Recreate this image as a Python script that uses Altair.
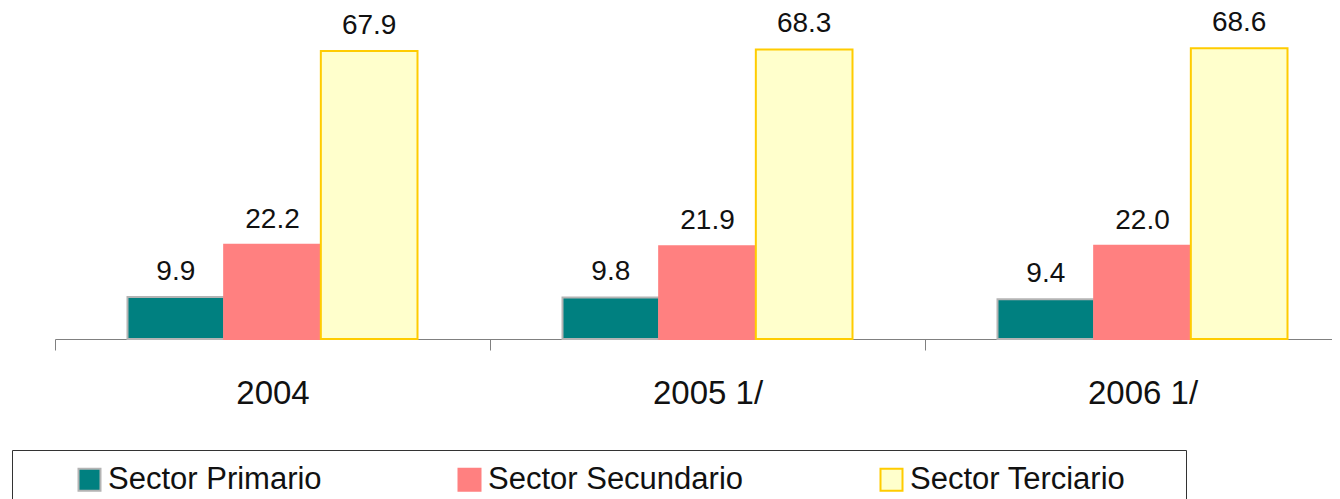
import altair as alt
import pandas as pd

years = ["2004", "2005 1/", "2006 1/"]
sectors = ["Sector Primario", "Sector Secundario", "Sector Terciario"]
primario = [9.9, 9.8, 9.4]
secundario = [22.2, 21.9, 22.0]
terciario = [67.9, 68.3, 68.6]
fill_colors = ["#008080", "#FF8080", "#FFFFCC"]
stroke_colors = ["#B4B4B4", "#FF8080", "#FFCC00"]

rows = []
for s, vals in zip(sectors, [primario, secundario, terciario]):
    for yr, v in zip(years, vals):
        rows.append({"year": yr, "sector": s, "value": v})
df = pd.DataFrame(rows)

FONT = "Liberation Sans"
PAD = "\u2800" * 2

x_enc = alt.X(
    "year:N",
    sort=years,
    scale=alt.Scale(paddingInner=0, paddingOuter=0, range=[0, 1305]),
    axis=alt.Axis(
        title=None,
        labelAngle=0,
        labelFontSize=33,
        labelFont=FONT,
        labelColor="#111111",
        labelPadding=27,
        domainColor="#808080",
        tickColor="#808080",
        tickSize=11,
        tickBand="extent",
        grid=False,
    ),
)
xo_enc = alt.XOffset("sector:N", sort=sectors, scale=alt.Scale(paddingInner=0, paddingOuter=0.75))
y_enc = alt.Y("value:Q", scale=alt.Scale(domain=[0, 75]), axis=None)

legend = alt.Legend(
    title=" ",
    orient="none",
    legendX=-43,
    legendY=429,
    direction="horizontal",
    symbolType="square",
    symbolSize=484,
    symbolStrokeWidth=2,
    labelFontSize=31,
    labelFont=FONT,
    labelColor="#111111",
    labelOffset=3,
    labelLimit=800,
    columnPadding=132,
    padding=14,
    strokeColor="#333333",
    fillColor="white",
    titleOrient="left",
    titleFontSize=10,
    titlePadding=48,
    labelExpr="indexof(datum.label, 'Terciario') >= 0 ? datum.label + '" + PAD + "' : datum.label",
)

bars = alt.Chart(df).mark_bar(strokeWidth=2).encode(
    x=x_enc,
    xOffset=xo_enc,
    y=y_enc,
    fill=alt.Fill("sector:N", sort=sectors, scale=alt.Scale(domain=sectors, range=fill_colors), legend=legend),
    stroke=alt.Stroke("sector:N", sort=sectors, scale=alt.Scale(domain=sectors, range=stroke_colors), legend=legend),
)

labels = alt.Chart(df).mark_text(dy=-17, baseline="alphabetic", fontSize=28, font=FONT, color="#111111").encode(
    x=x_enc,
    xOffset=xo_enc,
    y=y_enc,
    text=alt.Text("value:Q", format=".1f"),
)

chart = alt.layer(bars, labels).properties(
    width=1277,
    height=318,
    padding={"left": 47, "top": 13, "right": 0, "bottom": 160},
    autosize=alt.AutoSizeParams(type="none"),
).configure_view(stroke=None)

chart.save("out.html", embed_options={"renderer": "svg", "actions": False})
